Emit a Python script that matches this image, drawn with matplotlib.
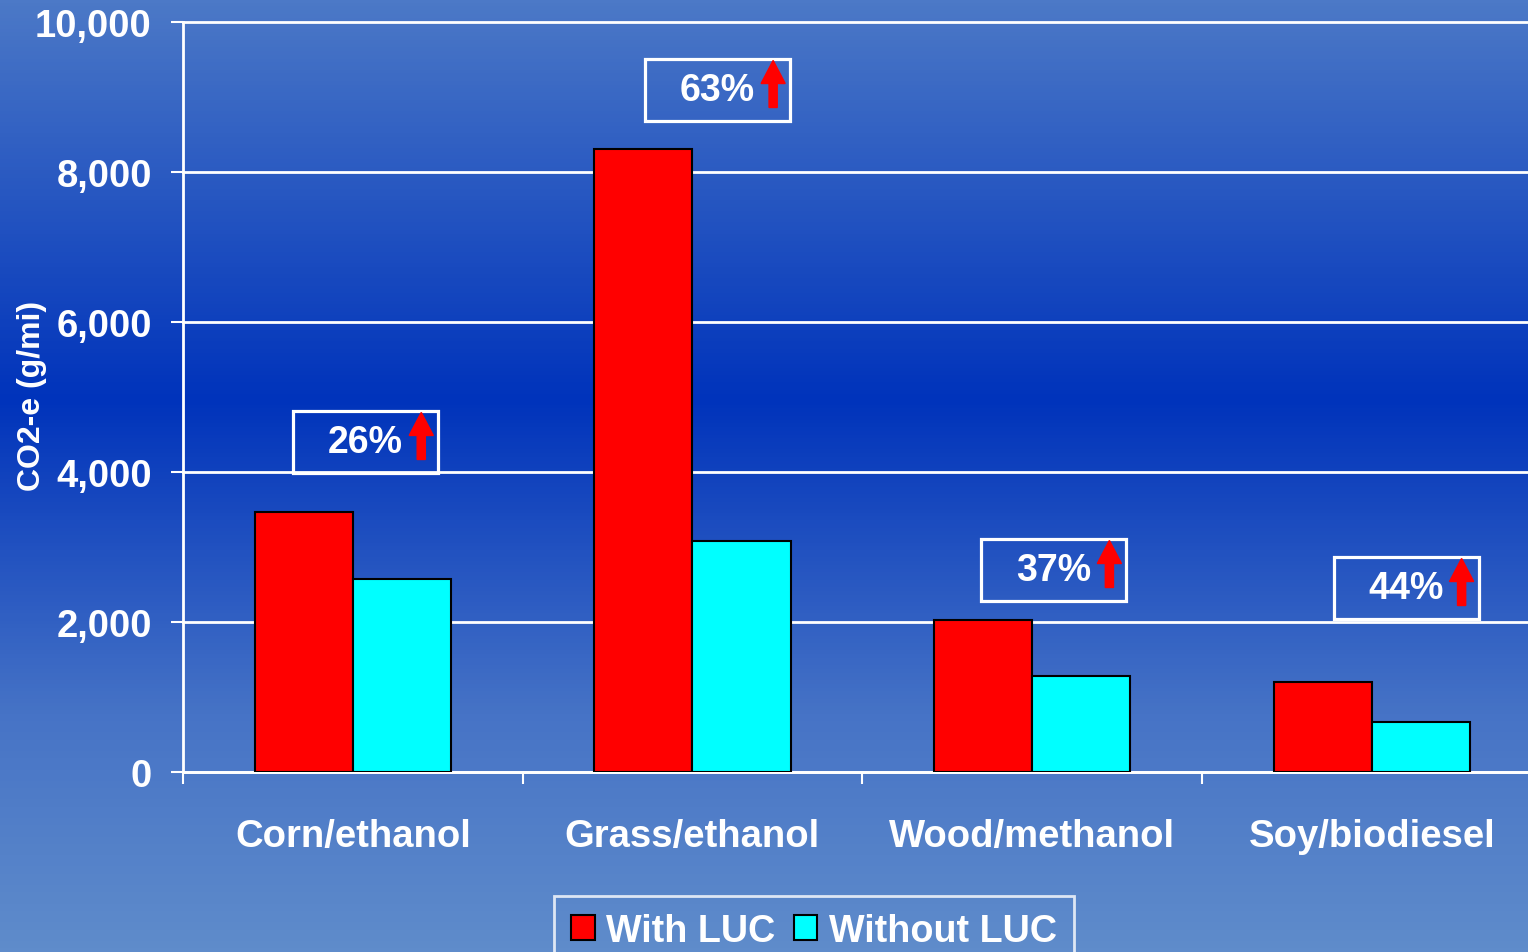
import matplotlib
matplotlib.use("Agg")
import matplotlib.pyplot as plt
import numpy as np
from matplotlib.colors import LinearSegmentedColormap
from matplotlib.patches import Rectangle, Patch

plt.rcParams['font.family'] = ['Liberation Sans', 'DejaVu Sans']
plt.rcParams['font.weight'] = 'bold'

categories = ['Corn/ethanol', 'Grass/ethanol', 'Wood/methanol', 'Soy/biodiesel']
with_luc = [3467, 8307, 2027, 1200]
without_luc = [2573, 3080, 1280, 667]
increase = ['26%', '63%', '37%', '44%']

# where the percentage boxes sit (x offset from category centre, y centre)
box_dx = [0.038, 0.074, 0.064, 0.101]
box_y = [4400, 9093, 2693, 2453]

fig = plt.figure(figsize=(15.28, 9.53), dpi=100)

# gradient background
bg = fig.add_axes([0, 0, 1, 1])
cmap = LinearSegmentedColormap.from_list('bg', [
    (0.0, '#4c79c7'), (0.42, '#0033bb'), (0.75, '#4673c6'), (1.0, '#5f8ccb')])
grad = np.linspace(0, 1, 256).reshape(-1, 1)
bg.imshow(grad, aspect='auto', cmap=cmap, extent=[0, 1, 0, 1], origin='upper')
bg.axis('off')

ax = fig.add_axes([183 / 1528, 1 - 773 / 953, 1 - 183 / 1528, 750 / 953])
ax.patch.set_alpha(0)

x = np.arange(len(categories))
w = 0.289
ax.bar(x - w / 2, with_luc, w, color='#ff0000', edgecolor='black', linewidth=1.5,
       label='With LUC', zorder=3)
ax.bar(x + w / 2, without_luc, w, color='#00ffff', edgecolor='black', linewidth=1.5,
       label='Without LUC', zorder=3)

ax.set_yticks(np.arange(0, 10001, 2000))
ax.set_yticklabels([f'{v:,}' for v in range(0, 10001, 2000)], fontsize=27.5,
                   color='white', fontweight='bold')
ax.yaxis.grid(True, color='white', linewidth=2, zorder=1)
for gl in ax.yaxis.get_gridlines():
    gl.set_clip_on(False)
ax.set_axisbelow(True)

ax.set_xticks(np.arange(-0.5, 3.6, 1))
ax.set_xticklabels([])
ax.set_xticks(x, minor=True)
ax.set_xticklabels(categories, minor=True, fontsize=27.5, color='white', fontweight='bold')
ax.tick_params(axis='x', which='major', length=8.5, width=1.5, color='white')
ax.tick_params(axis='x', which='minor', length=0, pad=33)
ax.tick_params(axis='y', length=8.5, width=1.5, color='white', pad=14)
ax.set_xlim(-0.5, 3.46)
ax.set_ylim(0, 10000)

for s in ['top', 'right']:
    ax.spines[s].set_visible(False)
for s in ['left', 'bottom']:
    ax.spines[s].set_color('white')
    ax.spines[s].set_linewidth(2)

ax.set_ylabel('CO2-e (g/mi)', fontsize=23, color='white', fontweight='bold')
ax.yaxis.set_label_coords(-0.101, 0.503)

bw = 0.427
bh = 827
for i in range(len(categories)):
    cx = x[i] + box_dx[i]
    cy = box_y[i]
    ax.add_patch(Rectangle((cx - bw / 2, cy - bh / 2), bw, bh, fill=False,
                           edgecolor='white', linewidth=2.3, zorder=5, clip_on=False))
    ax.text(cx, cy, increase[i], ha='center', va='center', fontsize=27,
            color='white', fontweight='bold', zorder=6)
    ax.arrow(cx + bw / 2 - 0.05, cy - 233, 0, 627, width=0.024, head_width=0.071,
             head_length=307, length_includes_head=True, color='#ff0000',
             zorder=6, clip_on=False)

handles = [Patch(facecolor='#ff0000', edgecolor='black', linewidth=1.5),
           Patch(facecolor='#00ffff', edgecolor='black', linewidth=1.5)]
leg = fig.legend(handles, ['With LUC', 'Without LUC'], loc='upper center',
                 bbox_to_anchor=(814 / 1528, 1 - 897 / 953), ncol=2,
                 frameon=True, fancybox=False, handlelength=0.62, handleheight=0.62,
                 handletextpad=0.3, columnspacing=0.5, borderpad=0.45,
                 borderaxespad=0, prop={'weight': 'bold', 'size': 27.2})
leg.get_frame().set_facecolor('none')
leg.get_frame().set_edgecolor('white')
leg.get_frame().set_linewidth(2)
for t in leg.get_texts():
    t.set_color('white')

fig.savefig('out.png', dpi=100)
